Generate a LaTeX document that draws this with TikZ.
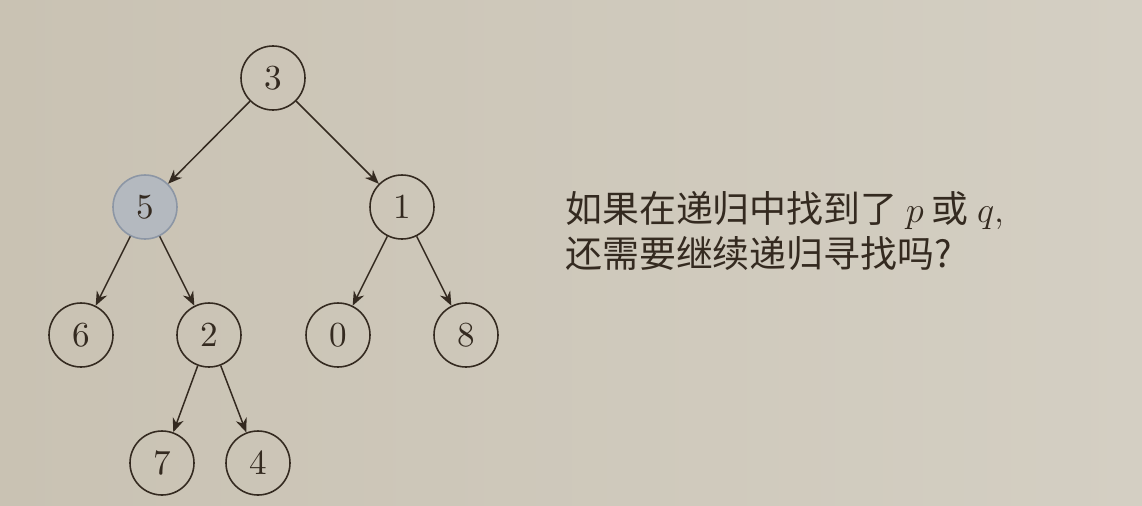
\documentclass[tikz,border=0pt]{standalone}
\usepackage{fontspec}
\newfontfamily\cjk{Noto Sans CJK SC}
\newfontfamily\digit{lmroman10-regular}[Extension=.otf]
\usetikzlibrary{arrows.meta,positioning}

\definecolor{bgcol}{RGB}{201,194,179}
\definecolor{bgright}{RGB}{212,207,195}
\definecolor{inkcol}{RGB}{52,42,32}
\definecolor{hicol}{RGB}{180,185,191}
\definecolor{hiline}{RGB}{140,150,165}

\tikzset{
  tnode/.style={draw=inkcol,circle,line width=0.9pt,minimum size=1.28cm,inner sep=0pt,
    text=inkcol,font=\digit\fontsize{20}{24}\selectfont},
  hinode/.style={tnode,fill=hicol,draw=hiline},
  edge/.style={line width=0.85pt,draw=inkcol,-{Stealth[length=8pt,width=6.5pt]}},
}

\begin{document}
\begin{tikzpicture}[node distance=2.56cm and 1.28cm, on grid]
      \shade[left color=bgcol,right color=bgright] (0,0) rectangle (22.84,-10.1);
      \useasboundingbox (0,0) rectangle (22.84,-10.1);

      \node[tnode] (n3) at (5.46,-1.56) {3};
      \node[hinode,below left = 2.58 cm and 2.56 cm of n3] (n5) {5};
      \node[tnode,below right = 2.58 cm and 2.58 cm of n3] (n1) {1};
      \draw[edge] (n3)--(n5);
      \draw[edge] (n3)--(n1);

      \node[tnode,below left = of n5] (n6) {6};
      \node[tnode,below right = of n5] (n2) {2};
      \draw[edge] (n5)--(n6);
      \draw[edge] (n5)--(n2);

      \node[tnode,below left = of n1] (n0) {0};
      \node[tnode,below right = of n1] (n8) {8};
      \draw[edge] (n1)--(n0);
      \draw[edge] (n1)--(n8);

      \node[tnode,below left = 2.56 cm and 0.94 cm of n2] (n7) {7};
      \node[tnode,below right = 2.56 cm and 0.98 cm of n2] (n4) {4};
      \draw[edge] (n2)--(n7);
      \draw[edge] (n2)--(n4);

      \node[anchor=west,align=left,inner sep=0pt,text=inkcol,
        font=\cjk\fontsize{21}{26}\selectfont] (ask) at (11.3,-4.62)
        {如果在递归中找到了 $p$ 或 $q,$\\还需要继续递归寻找吗?};
    \end{tikzpicture}
\end{document}
